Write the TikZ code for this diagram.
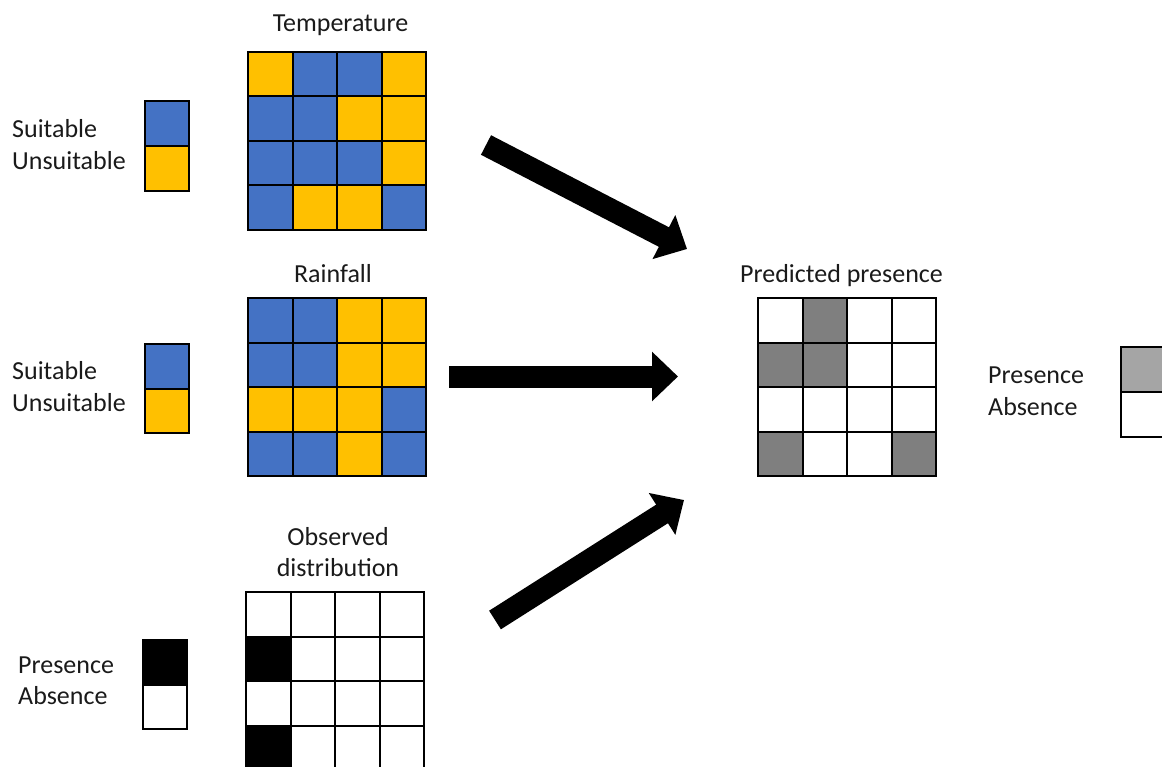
\documentclass[tikz,border=0pt]{standalone}
\usepackage{fontspec}
\setmainfont{Carlito}
\usetikzlibrary{arrows.meta}
\definecolor{cblue}{HTML}{4472C4}
\definecolor{cyel}{HTML}{FFC000}
\definecolor{cgray}{HTML}{7F7F7F}
\definecolor{clgray}{HTML}{A5A5A5}
\definecolor{ctext}{HTML}{1A1A1A}
\tikzset{
  cell/.style={draw=black, line width=2pt},
  lbl/.style={font=\fontsize{26}{30}\selectfont, inner sep=0pt, text=ctext},
  bigarrow/.style={line width=22pt, -{Triangle[length=26pt,width=48pt]}},
  gridbox/.style={minimum width=178pt, minimum height=178pt, inner sep=0pt, draw=none}
}
\newcommand\cellgrid[4]{% x0, y0, cell size, rows
  \foreach \rowlist [count=\r from 0] in {#4} {
    \foreach \cc [count=\k from 0] in \rowlist {
      \filldraw[cell, fill=\cc] (#1+\k*#3, #2+\r*#3) rectangle ++(#3,#3);
    }
  }
}
\begin{document}
\begin{tikzpicture}[x=1pt,y=-1pt]
\useasboundingbox (0,0) rectangle (1162,767);
\clip (0,0) rectangle (1162,767);

% ---- Temperature ----
\cellgrid{248}{52}{44.5}{{cyel,cblue,cblue,cyel},{cblue,cblue,cyel,cyel},{cblue,cblue,cblue,cyel},{cblue,cyel,cyel,cblue}}
\node[gridbox] (temp) at (337,141) {};
\node[lbl, anchor=base] (templbl) at (340.5,32) {Temperature};
\filldraw[cell, fill=cblue] (145,101) rectangle (189,146);
\filldraw[cell, fill=cyel] (145,146) rectangle (189,191);
\node[lbl, anchor=base west] (s1) at (12,138) {Suitable};
\node[lbl, anchor=base west] (u1) at (12,170) {Unsuitable};

% ---- Rainfall ----
\cellgrid{248}{298}{44.5}{{cblue,cblue,cyel,cyel},{cblue,cblue,cyel,cyel},{cyel,cyel,cyel,cblue},{cblue,cblue,cyel,cblue}}
\node[gridbox] (rain) at (337,387) {};
\node[lbl, anchor=base] (rainlbl) at (333,283) {Rainfall};
\filldraw[cell, fill=cblue] (145,344) rectangle (189,388.5);
\filldraw[cell, fill=cyel] (145,388.5) rectangle (189,433);
\node[lbl, anchor=base west] (s2) at (12,379) {Suitable};
\node[lbl, anchor=base west] (u2) at (12,411) {Unsuitable};

% ---- Observed distribution ----
\cellgrid{246}{592}{44.5}{{white,white,white,white},{black,white,white,white},{white,white,white,white},{black,white,white,white}}
\node[gridbox] (obs) at (335,681) {};
\node[lbl, anchor=base] (obslbl1) at (338,545) {Observed};
\node[lbl, anchor=base] (obslbl2) at (338,576) {distribution};
\filldraw[cell, fill=black] (143,640) rectangle (187,684.5);
\filldraw[cell, fill=white] (143,684.5) rectangle (187,729);
\node[lbl, anchor=base west] (p3) at (18,673) {Presence};
\node[lbl, anchor=base west] (a3) at (18,704) {Absence};

% ---- Predicted presence ----
\cellgrid{758}{298}{44.5}{{white,cgray,white,white},{cgray,cgray,white,white},{white,white,white,white},{cgray,white,white,cgray}}
\node[gridbox] (pred) at (847,387) {};
\node[lbl, anchor=base] (predlbl) at (841.5,283) {Predicted presence};
\filldraw[cell, fill=clgray] (1121,347) rectangle (1166,392);
\filldraw[cell, fill=white] (1121,392) rectangle (1166,437);
\node[lbl, anchor=base west] (p4) at (988,383) {Presence};
\node[lbl, anchor=base west] (a4) at (988,415) {Absence};

% ---- Arrows ----
\coordinate (a1s) at (486,145);
\coordinate (a1e) at (687,249);
\coordinate (a2s) at (449,376.5);
\coordinate (a2e) at (678,376.5);
\coordinate (a3s) at (495,620);
\coordinate (a3e) at (684,500);
\draw[bigarrow] (a1s) -- (a1e);
\draw[bigarrow] (a2s) -- (a2e);
\draw[bigarrow] (a3s) -- (a3e);
\end{tikzpicture}
\end{document}
